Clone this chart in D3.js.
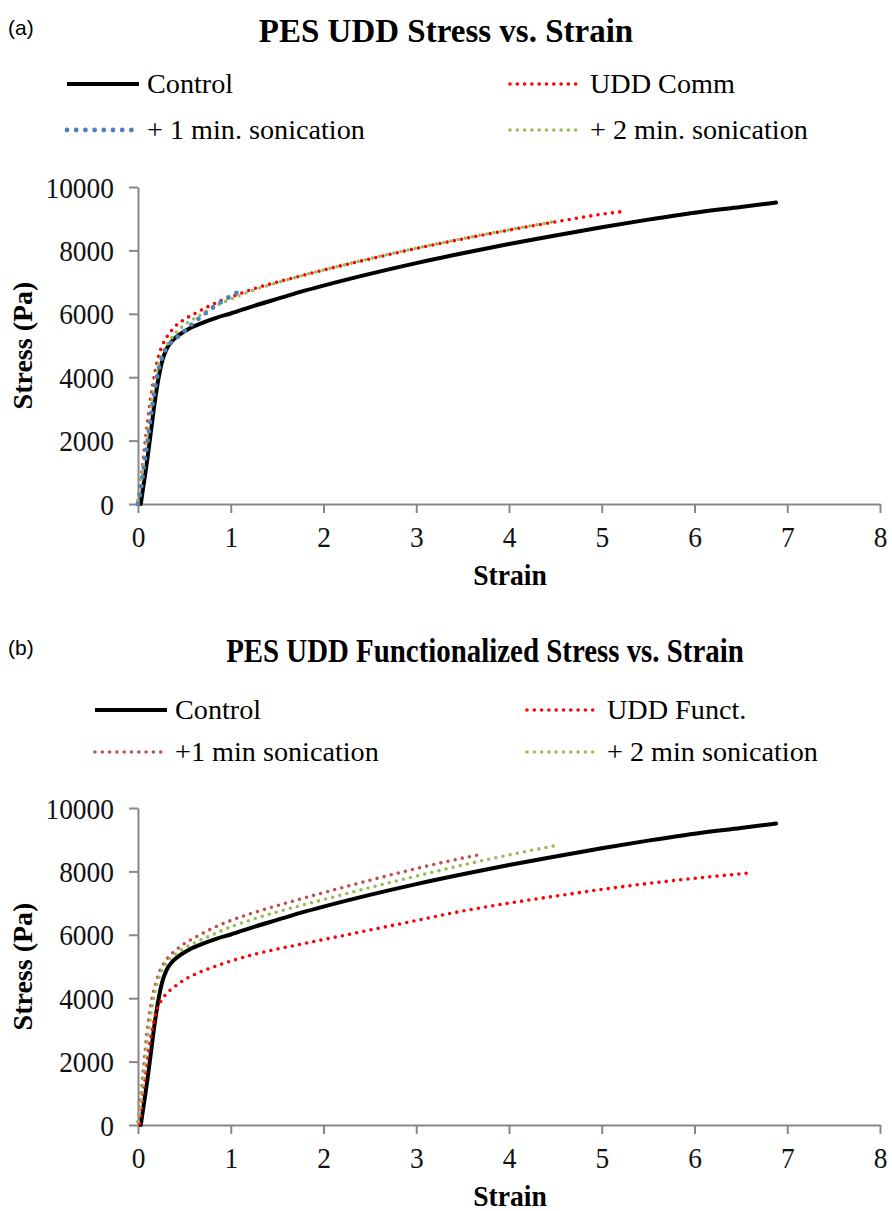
<!DOCTYPE html>
<html>
<head>
<meta charset="utf-8">
<script src="https://cdn.jsdelivr.net/npm/d3@7"></script>
<style>
    body { margin: 0; background: #fff; }
    .axis path, .axis line { stroke: #878787; stroke-width: 2; }
    .axis text { font-family: "Liberation Serif", "Times New Roman", serif; font-size: 29.5px; fill: #111; }
</style>
</head>
<body>
<div id="chart"></div>
<script>
// x axis ticks (strain) and y axis ticks (stress, Pa)
const strainTicks = [0, 1, 2, 3, 4, 5, 6, 7, 8];
const stressTicks = [0, 2000, 4000, 6000, 8000, 10000];

// control sample, used in both panels
const controlStrain = [0.03, 0.06, 0.1, 0.14, 0.18, 0.22, 0.26, 0.31, 0.37, 0.45, 0.55, 0.7, 0.85, 1.0, 1.25, 1.5, 1.75, 2.0, 2.5, 3.0, 3.5, 4.0, 4.5, 5.0, 5.5, 6.0, 6.5, 6.88];
const controlStress = [0, 600, 1400, 2300, 3200, 3950, 4500, 4900, 5150, 5350, 5530, 5720, 5880, 6010, 6250, 6470, 6690, 6890, 7260, 7600, 7910, 8200, 8470, 8730, 8970, 9190, 9370, 9510];

// panel (a): commercial UDD
const commStrain = [0, 0.03, 0.06, 0.1, 0.14, 0.18, 0.22, 0.27, 0.33, 0.4, 0.5, 0.62, 0.75, 0.9, 1.05, 1.25, 1.5, 1.75, 2.0, 2.5, 3.0, 3.5, 4.0, 4.5, 5.0, 5.21];
const commStress = [100, 700, 1500, 2500, 3400, 4100, 4650, 5050, 5350, 5600, 5820, 6020, 6220, 6420, 6580, 6790, 7000, 7190, 7380, 7730, 8060, 8360, 8640, 8900, 9140, 9220];
const comm1Strain = [0, 0.03, 0.06, 0.1, 0.14, 0.18, 0.22, 0.27, 0.33, 0.4, 0.5, 0.6, 0.7, 0.8, 0.9, 1.0, 1.1];
const comm1Stress = [0, 450, 1100, 1900, 2800, 3600, 4200, 4700, 5000, 5200, 5450, 5720, 5950, 6180, 6380, 6560, 6720];
const comm2Strain = [0, 0.03, 0.06, 0.1, 0.14, 0.18, 0.22, 0.27, 0.33, 0.4, 0.5, 0.62, 0.75, 0.9, 1.05, 1.25, 1.5, 1.75, 2.0, 2.5, 3.0, 3.5, 4.0, 4.47];
const comm2Stress = [100, 600, 1300, 2200, 3100, 3850, 4400, 4800, 5100, 5380, 5650, 5870, 6100, 6330, 6520, 6750, 6980, 7190, 7380, 7740, 8070, 8370, 8650, 8900];

// panel (b): functionalized UDD
const functStrain = [0.02, 0.05, 0.08, 0.12, 0.16, 0.2, 0.25, 0.3, 0.38, 0.5, 0.65, 0.8, 1.0, 1.25, 1.5, 1.75, 2.0, 2.5, 3.0, 3.5, 4.0, 4.5, 5.0, 5.5, 6.0, 6.63];
const functStress = [50, 900, 1600, 2450, 3100, 3600, 3920, 4120, 4330, 4580, 4800, 4970, 5170, 5380, 5550, 5700, 5850, 6150, 6450, 6750, 7000, 7220, 7430, 7620, 7780, 7960];
const funct1Strain = [0, 0.03, 0.06, 0.1, 0.14, 0.18, 0.22, 0.27, 0.33, 0.4, 0.5, 0.65, 0.8, 1.0, 1.25, 1.5, 1.75, 2.0, 2.5, 3.0, 3.5, 3.7];
const funct1Stress = [100, 900, 1800, 3000, 3800, 4350, 4750, 5050, 5300, 5500, 5720, 5970, 6200, 6450, 6700, 6920, 7130, 7330, 7720, 8090, 8420, 8540];
const funct2Strain = [0, 0.03, 0.06, 0.1, 0.14, 0.18, 0.22, 0.27, 0.33, 0.4, 0.5, 0.65, 0.8, 1.0, 1.25, 1.5, 1.75, 2.0, 2.5, 3.0, 3.5, 4.0, 4.53];
const funct2Stress = [100, 700, 1500, 2600, 3500, 4150, 4600, 4950, 5200, 5380, 5580, 5800, 6000, 6250, 6500, 6720, 6920, 7110, 7490, 7850, 8200, 8520, 8830];

const SERIF = '"Liberation Serif", "Times New Roman", serif';

function zip(xs, ys){
    return xs.map(function(x, i){ return [x, ys[i]]; });
}

// squeeze text horizontally, the source glyphs are a little narrower than Times
function squeeze(sel, k){
    sel.each(function(){
        let w = this.getComputedTextLength();
        d3.select(this)
            .attr("textLength", w * k)
            .attr("lengthAdjust", "spacingAndGlyphs");
    });
}

// line styles
const styles = {
    control: {color: "#000", width: 4, dash: null},
    red:     {color: "#ff0000", width: 3.6, dash: "0,7.3"},
    blue:    {color: "#4f81bd", width: 4.8, dash: "0,9.2"},
    green:   {color: "#9bbb59", width: 3.6, dash: "0,7.3"},
    brown:   {color: "#c0504d", width: 3.6, dash: "0,7.3"}
};

const panels = [
    {
        tag: "(a)", top: 0, title: "PES UDD Stress vs. Strain", titleX: 446, titleSqueeze: 1,
        plotTop: 187, plotBottom: 504,
        legendLeft: 67, legendRight: 510,
        series: [
            {name: "Control", style: "control", data: zip(controlStrain, controlStress), col: 0, row: 0},
            {name: "UDD Comm", style: "red", data: zip(commStrain, commStress), col: 1, row: 0},
            {name: "+ 2 min. sonication", style: "green", data: zip(comm2Strain, comm2Stress), col: 1, row: 1},
            {name: "+ 1 min. sonication", style: "blue", data: zip(comm1Strain, comm1Stress), col: 0, row: 1}
        ]
    },
    {
        tag: "(b)", top: 620, title: "PES UDD Functionalized Stress vs. Strain", titleX: 485, titleSqueeze: 0.875,
        plotTop: 808 - 620, plotBottom: 1125 - 620,
        legendLeft: 95, legendRight: 527,
        series: [
            {name: "Control", style: "control", data: zip(controlStrain, controlStress), col: 0, row: 0},
            {name: "UDD Funct.", style: "red", data: zip(functStrain, functStress), col: 1, row: 0},
            {name: "+1 min sonication", style: "brown", data: zip(funct1Strain, funct1Stress), col: 0, row: 1},
            {name: "+ 2 min sonication", style: "green", data: zip(funct2Strain, funct2Stress), col: 1, row: 1}
        ]
    }
];

let svg = d3.select("#chart")
    .append("svg")
    .attr("width", 892)
    .attr("height", 1211);

svg.append("rect").attr("width", 892).attr("height", 1211).attr("fill", "#fff");

function applyStyle(sel, st){
    sel.attr("fill", "none")
        .attr("stroke", st.color)
        .attr("stroke-width", st.width)
        .attr("stroke-linecap", "round")
        .attr("stroke-linejoin", "round");
    if(st.dash)
        sel.attr("stroke-dasharray", st.dash);
}

panels.forEach(function(p){
    let g = svg.append("g").attr("transform", "translate(0," + p.top + ")");

    let xScale = d3.scaleLinear().domain([0, 8]).range([138, 880]);
    let yScale = d3.scaleLinear().domain([0, 10000]).range([p.plotBottom, p.plotTop]);

    g.append("text")
        .attr("x", 8).attr("y", 35)
        .style("font-family", '"Liberation Sans", Arial, sans-serif')
        .style("font-size", "21px")
        .text(p.tag);

    g.append("text")
        .attr("x", p.titleX).attr("y", 42)
        .attr("text-anchor", "middle")
        .style("font-family", SERIF)
        .style("font-weight", "bold")
        .style("font-size", "33px")
        .text(p.title)
        .call(squeeze, p.titleSqueeze);

    // legend, two columns by two rows
    let rowY = [84, 130];
    if(p.top > 0) rowY = [710 - p.top, 752 - p.top];
    p.series.forEach(function(s){
        let x0 = s.col === 0 ? p.legendLeft : p.legendRight;
        let y = rowY[s.row];
        let st = styles[s.style];
        g.append("line")
            .attr("x1", x0).attr("x2", x0 + 72)
            .attr("y1", y).attr("y2", y)
            .call(applyStyle, st)
            .attr("stroke-linecap", st.dash ? "round" : "butt");
        g.append("text")
            .attr("x", x0 + 80).attr("y", y + 9)
            .style("font-family", SERIF)
            .style("font-size", "28.2px")
            .text(s.name);
    });

    g.append("g")
        .attr("class", "axis")
        .attr("transform", "translate(0," + p.plotBottom + ")")
        .call(d3.axisBottom(xScale).tickValues(strainTicks).tickSize(9).tickSizeOuter(0).tickPadding(13).tickFormat(d3.format("d")))
        .selectAll("text").call(squeeze, 0.93);

    g.append("g")
        .attr("class", "axis")
        .attr("transform", "translate(138,0)")
        .call(d3.axisLeft(yScale).tickValues(stressTicks).tickSize(9).tickSizeOuter(0).tickPadding(15).tickFormat(d3.format("d")))
        .selectAll("text").attr("dy", "0.34em").call(squeeze, 0.93);

    g.append("text")
        .attr("transform", "translate(32," + (p.plotTop + p.plotBottom) / 2 + ") rotate(-90)")
        .attr("text-anchor", "middle")
        .style("font-family", SERIF)
        .style("font-weight", "bold")
        .style("font-size", "28px")
        .text("Stress (Pa)");

    g.append("text")
        .attr("x", 510).attr("y", p.plotBottom + 81)
        .attr("text-anchor", "middle")
        .style("font-family", SERIF)
        .style("font-weight", "bold")
        .style("font-size", "30px")
        .text("Strain")
        .call(squeeze, 0.92);

    let line = d3.line()
        .x(function(d){ return xScale(d[0]); })
        .y(function(d){ return yScale(d[1]); })
        .curve(d3.curveMonotoneX);

    p.series.forEach(function(s){
        g.append("path")
            .datum(s.data)
            .attr("d", line)
            .call(applyStyle, styles[s.style]);
    });
});
</script>
</body>
</html>
